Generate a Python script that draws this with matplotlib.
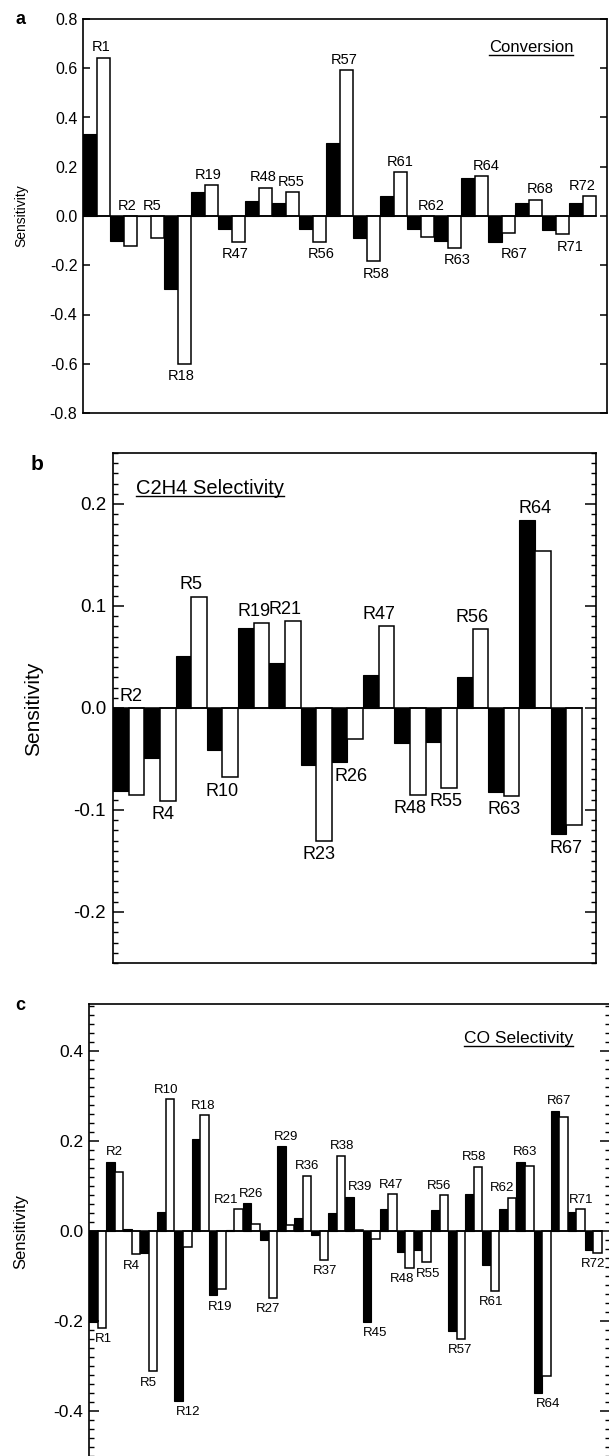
import numpy as np
import matplotlib
matplotlib.use("Agg")
import matplotlib.pyplot as plt
from matplotlib.lines import Line2D
from matplotlib.ticker import MultipleLocator, FuncFormatter

plt.rcParams['font.family'] = ['Liberation Sans', 'DejaVu Sans']
plt.rcParams['axes.unicode_minus'] = False

# (a) conversion sensitivities: filled / open bar of each reaction pair
conv_labels = ['R1', 'R2', 'R5', 'R18', 'R19', 'R47', 'R48', 'R55', 'R56', 'R57',
               'R58', 'R61', 'R62', 'R63', 'R64', 'R67', 'R68', 'R71', 'R72']
conv_black = [0.331, -0.101, 0.0, -0.295, 0.097, -0.051, 0.061, 0.054, -0.051, 0.297,
              -0.088, 0.082, -0.052, -0.102, 0.154, -0.105, 0.054, -0.057, 0.054]
conv_white = [0.643, -0.122, -0.090, -0.600, 0.124, -0.104, 0.114, 0.096, -0.105, 0.593,
              -0.184, 0.177, -0.084, -0.129, 0.161, -0.071, 0.067, -0.075, 0.080]
conv_above = ['R1', 'R2', 'R5', 'R19', 'R48', 'R55', 'R57', 'R61', 'R62', 'R64', 'R68', 'R72']

# (b) C2H4 selectivity
c2h4_labels = ['R2', 'R4', 'R5', 'R10', 'R19', 'R21', 'R23', 'R26', 'R47', 'R48',
               'R55', 'R56', 'R63', 'R64', 'R67']
c2h4_black = [-0.081, -0.049, 0.051, -0.041, 0.078, 0.044, -0.056, -0.053, 0.032, -0.034,
              -0.033, 0.030, -0.082, 0.184, -0.124]
c2h4_white = [-0.085, -0.091, 0.109, -0.068, 0.083, 0.085, -0.130, -0.030, 0.080, -0.085,
              -0.078, 0.077, -0.086, 0.154, -0.115]
c2h4_above = ['R2', 'R5', 'R19', 'R21', 'R47', 'R56', 'R64']

# (c) CO selectivity
co_labels = ['R1', 'R2', 'R4', 'R5', 'R10', 'R12', 'R18', 'R19', 'R21', 'R26',
             'R27', 'R29', 'R36', 'R37', 'R38', 'R39', 'R45', 'R47', 'R48', 'R55',
             'R56', 'R57', 'R58', 'R61', 'R62', 'R63', 'R64', 'R67', 'R71', 'R72']
co_black = [-0.203, 0.154, 0.004, -0.050, 0.042, -0.378, 0.204, -0.143, 0.002, 0.062,
            -0.021, 0.188, 0.028, -0.010, 0.039, 0.076, -0.202, 0.048, -0.048, -0.042,
            0.046, -0.222, 0.083, -0.075, 0.049, 0.154, -0.360, 0.267, 0.042, -0.042]
co_white = [-0.216, 0.132, -0.052, -0.313, 0.293, -0.036, 0.257, -0.129, 0.048, 0.015,
            -0.149, 0.014, 0.123, -0.064, 0.167, 0.002, -0.019, 0.082, -0.082, -0.070,
            0.079, -0.240, 0.143, -0.133, 0.074, 0.144, -0.323, 0.254, 0.048, -0.049]
co_above = ['R2', 'R10', 'R18', 'R21', 'R26', 'R29', 'R36', 'R38', 'R39', 'R47',
            'R56', 'R58', 'R62', 'R63', 'R67', 'R71']

# sideways shifts (pixels) of the reaction labels off their pair centre
conv_shift = {'R1': 5, 'R2': 4, 'R5': 2, 'R18': 4, 'R19': 4, 'R47': 4, 'R48': 5,
              'R55': 6, 'R56': 9, 'R57': 5, 'R58': 10, 'R61': 7, 'R62': 11, 'R63': 10,
              'R64': 12, 'R67': 13, 'R68': 12, 'R71': 15, 'R72': -1}
c2h4_shift = {'R2': 2, 'R4': 3, 'R23': 3, 'R26': 4, 'R55': 5}
co_shift = {'R1': 6, 'R12': 5, 'R18': 3, 'R19': 3, 'R21': -8, 'R36': 4, 'R37': 5,
            'R38': 5, 'R39': 6, 'R45': 4, 'R47': 3, 'R48': -3, 'R55': 6, 'R57': 3,
            'R62': -6, 'R64': 6, 'R71': 5}

W, H = 609, 1456
fig = plt.figure(figsize=(W / 100, H / 100), dpi=100)


def box(l, t, r, b):
    return [l / W, 1 - b / H, (r - l) / W, (b - t) / H]


def fmt(v, pos):
    return '%.1f' % (round(v, 1) + 0.0)


def draw_bars(ax, labels, black, white, above, shift, size, xmax):
    n = len(labels)
    left = np.arange(n) * 2.0
    ax.bar(left, black, width=1.0, align='edge', color='black',
           edgecolor='black', linewidth=0.8)
    ax.bar(left + 1, white, width=1.0, align='edge', color='white',
           edgecolor='black', linewidth=1.1)
    ax.plot([0, 2 * n], [0, 0], color='black', lw=1.1)
    for i, lab in enumerate(labels):
        dx = shift.get(lab, 0) * 0.72
        if lab in above:
            y = max(0, black[i], white[i])
            ax.annotate(lab, (left[i] + 1, y), xytext=(dx, 2.5), textcoords='offset points',
                        ha='center', va='bottom', fontsize=size)
        else:
            y = min(0, black[i], white[i])
            ax.annotate(lab, (left[i] + 1, y), xytext=(dx, -4), textcoords='offset points',
                        ha='center', va='top', fontsize=size)
    ax.set_xlim(0, xmax)
    ax.set_xticks([])
    for s in ax.spines.values():
        s.set_linewidth(1.2)
    ax.yaxis.set_major_formatter(FuncFormatter(fmt))


titles = []

# panel a
ax1 = fig.add_axes(box(83, 19, 607, 413))
draw_bars(ax1, conv_labels, conv_black, conv_white, conv_above, conv_shift, 10.5, 38.8)
ax1.set_ylim(-0.8, 0.8)
ax1.yaxis.set_major_locator(MultipleLocator(0.2))
ax1.tick_params(axis='y', which='major', direction='in', left=True, right=True,
                length=5, width=1.1, labelsize=11.5, pad=4)
ax1.set_ylabel('Sensitivity', fontsize=10)
ax1.yaxis.set_label_coords(-0.105, 0.5)
titles.append((ax1, ax1.text(0.855, 0.916, 'Conversion', transform=ax1.transAxes,
                             ha='center', va='baseline', fontsize=12)))

# panel b
ax2 = fig.add_axes(box(113, 453, 596, 963))
draw_bars(ax2, c2h4_labels, c2h4_black, c2h4_white, c2h4_above, c2h4_shift, 13, 30.9)
ax2.set_ylim(-0.25, 0.25)
ax2.yaxis.set_major_locator(MultipleLocator(0.1))
ax2.yaxis.set_minor_locator(MultipleLocator(0.01))
ax2.tick_params(axis='y', which='major', direction='in', left=True, right=True,
                length=8, width=1.1, labelsize=13.5, pad=5)
ax2.tick_params(axis='y', which='minor', direction='in', left=True, right=True,
                length=3.5, width=1.0)
ax2.set_ylabel('Sensitivity', fontsize=15)
ax2.yaxis.set_label_coords(-0.145, 0.498)
titles.append((ax2, ax2.text(0.201, 0.92, 'C2H4 Selectivity', transform=ax2.transAxes,
                             ha='center', va='baseline', fontsize=14.5)))

# panel c
ax3 = fig.add_axes(box(89, 1004, 610, 1460))
draw_bars(ax3, co_labels, co_black, co_white, co_above, co_shift, 9.5, 60.94)
ax3.set_ylim(-0.51, 0.505)
ax3.yaxis.set_major_locator(MultipleLocator(0.2))
ax3.yaxis.set_minor_locator(MultipleLocator(0.02))
ax3.tick_params(axis='y', which='major', direction='in', left=True, right=True,
                length=7, width=1.1, labelsize=12.5, pad=4)
ax3.tick_params(axis='y', which='minor', direction='in', left=True, right=True,
                length=3.5, width=1.0)
ax3.set_ylabel('Sensitivity', fontsize=12)
ax3.yaxis.set_label_coords(-0.117, 0.502)
titles.append((ax3, ax3.text(0.824, 0.914, 'CO Selectivity', transform=ax3.transAxes,
                             ha='center', va='baseline', fontsize=12.5)))

for lab, x, y, size in [('a', 20, 20, 13), ('b', 37, 465, 15), ('c', 20, 1005, 13)]:
    fig.text(x / W, 1 - y / H, lab, fontsize=size, fontweight='bold',
             ha='center', va='center')

# underline the panel titles
fig.canvas.draw()
inv = fig.transFigure.inverted()
for ax, t in titles:
    bb = t.get_window_extent()
    base = ax.transAxes.transform(t.get_position())[1] - 2.5
    (x0, y0), (x1, y1) = inv.transform([(bb.x0, base), (bb.x1, base)])
    fig.add_artist(Line2D([x0, x1], [y0, y1], transform=fig.transFigure,
                          color='black', lw=1.0))

fig.savefig('out.png', dpi=100)
